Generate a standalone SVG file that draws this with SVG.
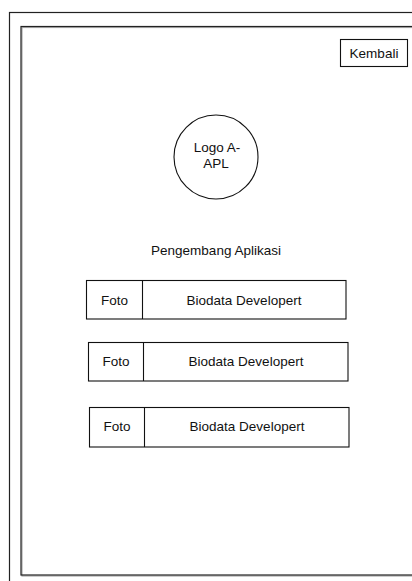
<svg xmlns="http://www.w3.org/2000/svg" width="412" height="581" viewBox="0 0 412 581">
  <style>
    .frame { fill: none; stroke: #222; stroke-width: 1.2; }
    .shadow { fill: none; stroke: #aaa; stroke-width: 1.2; }
    .box { fill: #fff; stroke: #111; stroke-width: 1.1; }
    .lbl { font-family: "Liberation Sans", Arial, sans-serif; font-size: 13.5px; fill: #111; text-anchor: middle; }
  </style>
  <rect width="412" height="581" fill="#fff"/>

  <!-- device frames -->
  <g id="outer-frame">
    <rect class="frame" x="9.5" y="12.5" width="420" height="590"/>
  </g>
  <g id="screen">
    <rect class="shadow" x="22" y="27.5" width="410" height="548.5"/>
    <rect class="frame" x="21" y="26.5" width="410" height="548.5"/>
  </g>

  <g id="btn-kembali">
    <rect class="box" x="340.5" y="39.5" width="67" height="27"/>
    <text class="lbl" x="374" y="58">Kembali</text>
  </g>

  <g id="logo">
    <circle class="box" cx="216" cy="157" r="42"/>
    <text class="lbl" x="217" y="152">Logo A-</text>
    <text class="lbl" x="216" y="168">APL</text>
  </g>

  <g id="title">
    <text class="lbl" x="216" y="255">Pengembang Aplikasi</text>
  </g>

  <g id="dev-1">
    <rect class="box" x="86.5" y="280.5" width="259.5" height="38.5"/>
    <line class="box" x1="142.5" y1="280.5" x2="142.5" y2="319"/>
    <text class="lbl" x="114.5" y="305">Foto</text>
    <text class="lbl" x="244" y="305">Biodata Developert</text>
  </g>

  <g id="dev-2">
    <rect class="box" x="88.5" y="342.5" width="259.5" height="38.5"/>
    <line class="box" x1="143.5" y1="342.5" x2="143.5" y2="381"/>
    <text class="lbl" x="116" y="366">Foto</text>
    <text class="lbl" x="246" y="366">Biodata Developert</text>
  </g>

  <g id="dev-3">
    <rect class="box" x="89.5" y="407.5" width="259.5" height="39.5"/>
    <line class="box" x1="144.5" y1="407.5" x2="144.5" y2="447"/>
    <text class="lbl" x="117" y="431">Foto</text>
    <text class="lbl" x="247" y="431">Biodata Developert</text>
  </g>

  <g id="connectors"></g>
</svg>
